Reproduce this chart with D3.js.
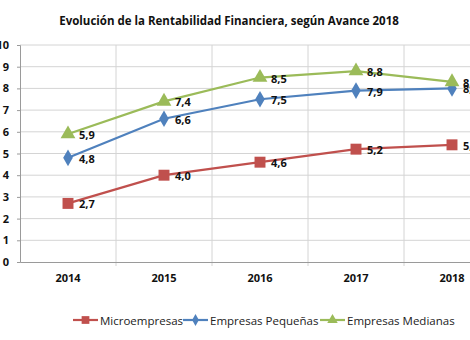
<!DOCTYPE html>
<html>
<head>
<meta charset="utf-8">
<script src="https://cdn.jsdelivr.net/npm/d3@7"></script>
<style>
  html, body { margin: 0; padding: 0; background: #fff; }
  svg { display: block; font-family: "Open Sans", "Noto Sans", sans-serif; }
</style>
</head>
<body>
<svg id="chart" width="470" height="340"></svg>
<script>
// Rentabilidad financiera por tamaño de empresa
const years = ["2014", "2015", "2016", "2017", "2018"];
const yTicks = [0, 1, 2, 3, 4, 5, 6, 7, 8, 9, 10];
const microempresas = [2.7, 4.0, 4.6, 5.2, 5.4];
const pequenas = [4.8, 6.6, 7.5, 7.9, 8.0];
const medianas = [5.9, 7.4, 8.5, 8.8, 8.3];

const seriesList = [
  { name: "Microempresas", values: microempresas, color: "#C0504D", symbol: d3.symbolSquare, size: 120 },
  { name: "Empresas Pequeñas", values: pequenas, color: "#4F81BD", symbol: d3.symbolDiamond, size: 80 },
  { name: "Empresas Medianas", values: medianas, color: "#9BBB59", symbol: d3.symbolTriangle, size: 95 }
];

const svg = d3.select("#chart");
const plotLeft = 20, plotW = 480, plotTop = 45, plotBottom = 262;

const x = d3.scaleBand().domain(years).range([plotLeft, plotLeft + plotW]);
const y = d3.scaleLinear().domain([0, 10]).range([plotBottom, plotTop]);

// title
svg.append("text")
  .attr("x", 229).attr("y", 25)
  .attr("text-anchor", "middle")
  .attr("font-size", 11.5).attr("font-weight", "bold")
  .attr("fill", "#111")
  .text("Evolución de la Rentabilidad Financiera, según Avance 2018");

// horizontal gridlines
svg.append("g").selectAll("line")
  .data(yTicks.filter(t => t > 0))
  .join("line")
  .attr("x1", plotLeft).attr("x2", plotLeft + plotW)
  .attr("y1", d => y(d)).attr("y2", d => y(d))
  .attr("stroke", "#d4d4d4").attr("stroke-width", 1);

// vertical gridlines at category boundaries
svg.append("g").selectAll("line")
  .data(years.slice(1).concat(["end"]))
  .join("line")
  .attr("x1", (d, i) => plotLeft + x.step() * (i + 1))
  .attr("x2", (d, i) => plotLeft + x.step() * (i + 1))
  .attr("y1", plotTop).attr("y2", plotBottom + 4)
  .attr("stroke", "#d4d4d4").attr("stroke-width", 1);

// y axis
const yAxis = svg.append("g")
  .attr("transform", `translate(${plotLeft},0)`)
  .call(d3.axisLeft(y).tickValues(yTicks).tickSize(3).tickPadding(8).tickFormat(d3.format("d")));
yAxis.select(".domain").attr("stroke", "#9a9a9a");
yAxis.selectAll(".tick line").attr("stroke", "#9a9a9a");
yAxis.selectAll("text")
  .attr("font-size", 11).attr("font-weight", "bold")
  .attr("font-family", "\"Open Sans\", sans-serif").attr("fill", "#111");

// x axis
const xAxis = svg.append("g")
  .attr("transform", `translate(0,${plotBottom})`)
  .call(d3.axisBottom(x).tickSize(0).tickPadding(12));
xAxis.select(".domain").attr("stroke", "#9a9a9a");
xAxis.selectAll("text")
  .attr("font-size", 11).attr("font-weight", "bold")
  .attr("font-family", "\"Open Sans\", sans-serif").attr("fill", "#111");

const cx = d => x(d) + x.bandwidth() / 2;

// series lines, markers and value labels
seriesList.forEach(s => {
  const pts = years.map((yr, i) => ({ yr, v: s.values[i] }));
  svg.append("path")
    .datum(pts)
    .attr("fill", "none")
    .attr("stroke", s.color)
    .attr("stroke-width", 2.2)
    .attr("d", d3.line().x(d => cx(d.yr)).y(d => y(d.v)));

  svg.append("g").selectAll("path")
    .data(pts)
    .join("path")
    .attr("transform", d => `translate(${cx(d.yr)},${y(d.v)})`)
    .attr("d", d3.symbol().type(s.symbol).size(s.size))
    .attr("fill", s.color);

  svg.append("g").selectAll("text")
    .data(pts)
    .join("text")
    .attr("x", d => cx(d.yr) + 11)
    .attr("y", d => y(d.v) + 5)
    .attr("font-size", 11).attr("font-weight", "bold")
    .attr("fill", "#111")
    .text(d => d3.format(".1f")(d.v).replace(".", ","));
});

// legend
const legendItems = [
  { s: seriesList[0], x: 73 },
  { s: seriesList[1], x: 183 },
  { s: seriesList[2], x: 320 }
];
const lg = svg.append("g");
legendItems.forEach(it => {
  const g = lg.append("g").attr("transform", `translate(${it.x},320)`);
  g.append("line").attr("x1", 0).attr("x2", 25).attr("y1", 0).attr("y2", 0)
    .attr("stroke", it.s.color).attr("stroke-width", 2.2);
  g.append("path").attr("transform", "translate(12.5,0)")
    .attr("d", d3.symbol().type(it.s.symbol).size(it.s.size * 0.5))
    .attr("fill", it.s.color);
  g.append("text").attr("x", 27).attr("y", 4.5)
    .attr("font-size", 11.5).attr("fill", "#222")
    .text(it.s.name);
});
</script>
</body>
</html>
